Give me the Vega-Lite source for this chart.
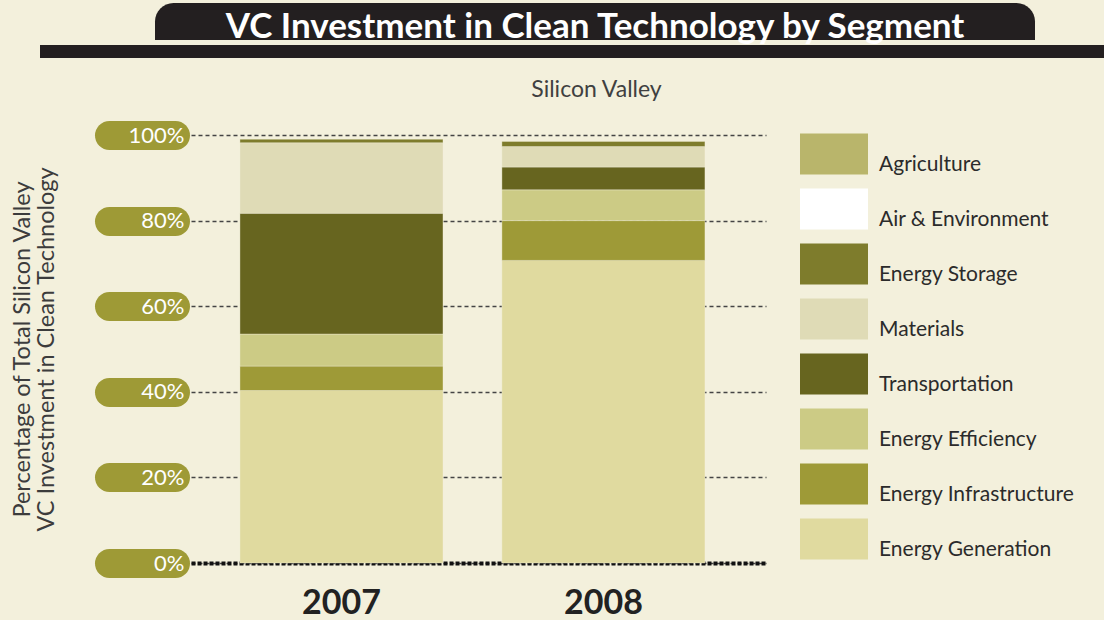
{
  "$schema": "https://vega.github.io/schema/vega-lite/v6.json",
  "background": "#f3f0dc",
  "padding": {"left": 9, "top": 3, "right": 0, "bottom": 0},
  "config": {"view": {"stroke": null}, "font": "Lato"},
  "spacing": 21,
  "resolve": {"scale": {"color": "independent"}, "legend": {"color": "independent"}},
  "vconcat": [
    {
      "spacing": 0,
      "vconcat": [
        {
          "spacing": 0,
          "hconcat": [
            {"width": 146, "height": 37, "data": {"values": []}, "mark": "rect", "encoding": {}},
            {
              "width": 880, "height": 37,
              "data": {"values": [{"t": "VC Investment in Clean Technology by Segment"}]},
              "layer": [
                {"mark": {"type": "rect", "color": "#231f20", "cornerRadiusTopLeft": 37, "cornerRadiusTopRight": 37}, "encoding": {}},
                {"mark": {"type": "text", "color": "white", "fontSize": 35, "fontWeight": "bold", "font": "Lato", "dy": 5}, "encoding": {"text": {"field": "t"}}}
              ]
            }
          ]
        },
        {
          "spacing": 0,
          "hconcat": [
            {"width": 31, "height": 13, "data": {"values": []}, "mark": "rect", "encoding": {}},
            {"width": 1070, "height": 13, "data": {"values": [{"t": "band"}]}, "mark": {"type": "rect", "color": "#231f20"}, "encoding": {}}
          ]
        }
      ]
    },
    {
      "spacing": 0,
      "resolve": {"scale": {"color": "independent"}, "legend": {"color": "independent"}},
      "hconcat": [
        {"width": 1, "height": 1, "data": {"values": []}, "mark": "rect", "encoding": {}},
        {
          "width": 575,
          "height": 428,
          "title": {"text": "Silicon Valley", "fontSize": 23, "font": "Lato", "fontWeight": "normal", "color": "#404040", "anchor": "middle", "frame": "group", "dx": 118, "offset": 18},
          "data": {"values": [
            {"year": "2007", "segment": "Energy Generation", "pct": 40.3},
            {"year": "2007", "segment": "Energy Infrastructure", "pct": 5.7},
            {"year": "2007", "segment": "Energy Efficiency", "pct": 7.5},
            {"year": "2007", "segment": "Transportation", "pct": 28.2},
            {"year": "2007", "segment": "Materials", "pct": 16.5},
            {"year": "2007", "segment": "Energy Storage", "pct": 0.8},
            {"year": "2008", "segment": "Energy Generation", "pct": 70.7},
            {"year": "2008", "segment": "Energy Infrastructure", "pct": 9.3},
            {"year": "2008", "segment": "Energy Efficiency", "pct": 7.2},
            {"year": "2008", "segment": "Transportation", "pct": 5.3},
            {"year": "2008", "segment": "Materials", "pct": 4.8},
            {"year": "2008", "segment": "Energy Storage", "pct": 1.2}
          ]},
          "transform": [{"window": [{"op": "row_number", "as": "idx"}]}],
          "mark": {"type": "bar", "stroke": "#f3f0dc", "strokeWidth": 0.6, "strokeOpacity": 0.6},
          "encoding": {
            "x": {
              "field": "year", "type": "nominal",
              "scale": {"paddingInner": 0.225, "paddingOuter": 0.21, "align": 0.445},
              "axis": {"title": null, "labelAngle": 0, "labelFont": "Lato", "labelFontSize": 34, "labelFontWeight": "bold", "labelColor": "#222222", "ticks": false, "labelPadding": 23, "domainColor": "#111111", "domainWidth": 4, "domainDash": [4, 2], "grid": false}
            },
            "y": {
              "field": "pct", "type": "quantitative", "stack": "zero",
              "scale": {"domain": [0, 100]},
              "axis": {
                "values": [0, 20, 40, 60, 80, 100],
                "labelExpr": "datum.value + '%'",
                "title": ["Percentage of Total Silicon Valley", "VC Investment in Clean Technology"],
                "titleFontSize": 23.5, "titleFont": "Lato", "titleFontWeight": "normal", "titleColor": "#3c3c3c", "titleLineHeight": 24, "titlePadding": 36,
                "domain": false,
                "tickColor": "#9e9a36", "tickWidth": 29, "tickSize": 66, "tickCap": "round", "offset": 16,
                "labelColor": "white", "labelFontSize": 22, "labelPadding": -75, "labelFont": "Lato",
                "grid": true, "gridColor": "#444444", "gridDash": [4, 3], "gridWidth": 1.3
              }
            },
            "order": {"field": "idx", "type": "quantitative"},
            "color": {
              "field": "segment", "type": "nominal",
              "scale": {
                "domain": ["Agriculture", "Air & Environment", "Energy Storage", "Materials", "Transportation", "Energy Efficiency", "Energy Infrastructure", "Energy Generation"],
                "range": ["#b9b56b", "#ffffff", "#7e7c2c", "#dfdbb6", "#67651f", "#cccb85", "#9e9a37", "#e0da9f"]
              },
              "legend": {
                "title": null, "orient": "none", "legendX": 609, "legendY": -15, "padding": 0,
                "symbolType": "M-1,-0.6H1V0.6H-1Z", "symbolSize": 4624, "symbolStrokeWidth": 0, "symbolOpacity": 1,
                "labelFontSize": 21, "labelFont": "Lato", "labelColor": "#2b2b2b", "labelOffset": 11, "rowPadding": -12, "labelBaseline": "top", "labelLimit": 300
              }
            }
          }
        }
      ]
    }
  ]
}
